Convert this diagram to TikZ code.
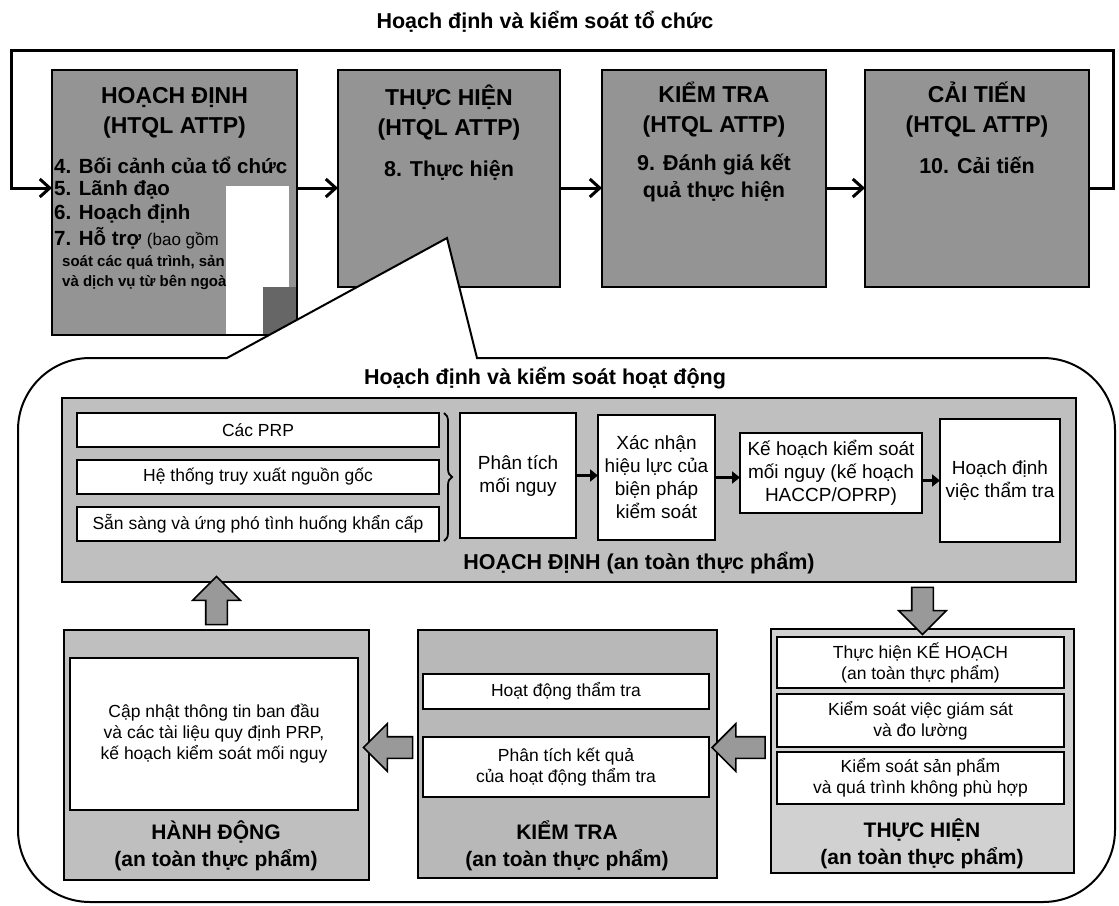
\documentclass[tikz,border=0pt]{standalone}
\usepackage{fontspec}
\setmainfont{Liberation Sans}
\usetikzlibrary{arrows.meta, calc, shapes.arrows, decorations.pathreplacing}

\newcommand{\fsz}[2]{\fontsize{#1}{#2}\selectfont}

\begin{document}
\begin{tikzpicture}[
  x=1pt, y=-1pt,
  >={Straight Barb[length=10pt, width=18pt]},
  box/.style={draw, line width=1.8pt, inner sep=0pt, outer sep=0pt},
  topbox/.style={box, fill=black!42},
  wbox/.style={box, fill=white, line width=1.6pt, align=center, font=\fsz{17.5}{21}},
  pbox/.style={wbox, font=\fsz{19}{23}},
  hd/.style={font=\bfseries\fsz{23}{30}, align=center},
  item/.style={font=\bfseries\fsz{20.5}{24}, anchor=west, inner sep=0pt},
  small item/.style={font=\bfseries\fsz{15}{18}, anchor=west, inner sep=0pt},
  ttl/.style={font=\bfseries\fsz{21.5}{24}},
  lbl/.style={font=\bfseries\fsz{21}{27}, align=center},
  flow/.style={line width=3pt, ->},
  plink/.style={line width=3.5pt, -{Triangle[length=8pt, width=12pt]}},
  fat arrow/.style={single arrow, draw, line width=1.6pt, fill=black!40,
    inner sep=10pt, outer sep=0pt, single arrow head extend=13pt},
  ]
  \fill[white] (0,0) rectangle (1119,905);
  \useasboundingbox (0,0) rectangle (1119,905);

  % organisation level
  \node[ttl] (orgtitle) at (545,22) {Hoạch định và kiểm soát tổ chức};

  \node[topbox, minimum width=245, minimum height=265] (b1) at (174.5,202.5) {};
  \node[topbox, minimum width=222, minimum height=217] (b2) at (449,178.5) {};
  \node[topbox, minimum width=224, minimum height=217] (b3) at (714,178.5) {};
  \node[topbox, minimum width=224, minimum height=217] (b4) at (977,178.5) {};

  \node[hd] (b1h) at (174.5,113) {HOẠCH ĐỊNH\\(HTQL ATTP)};
  \node[item] (i4) at (54,165) {4. Bối cảnh của tổ chức};
  \node[item] (i5) at (54,190) {5. Lãnh đạo};
  \node[item] (i6) at (54,214) {6. Hoạch định};
  \node[item] (i7) at (54,238) {7. Hỗ trợ {\mdseries\fsz{17}{18}(bao gồm}};
  \node[small item] (i7b) at (62,262) {soát các quá trình, sản};
  \node[small item] (i7c) at (62,282) {và dịch vụ từ bên ngoài};
  % blank patch of the scan
  \fill[white] (226,186) rectangle (289,334);
  \fill[black!60] (263,287) rectangle (296,334);
  \draw[line width=1.8pt] (b1.north west) rectangle (b1.south east);

  \node[hd] (b2h) at (449,113) {THỰC HIỆN\\(HTQL ATTP)};
  \node[hd, font=\bfseries\fsz{21.5}{27}] (b2t) at (449,170) {8. Thực hiện};
  \node[hd] (b3h) at (714,110) {KIỂM TRA\\(HTQL ATTP)};
  \node[hd, font=\bfseries\fsz{21.5}{27}] (b3t) at (714,178) {9. Đánh giá kết\\quả thực hiện};
  \node[hd] (b4h) at (977,110) {CẢI TIẾN\\(HTQL ATTP)};
  \node[hd, font=\bfseries\fsz{21.5}{27}] (b4t) at (977,165) {10. Cải tiến};

  % PDCA loop
  \coordinate (lvl) at (0,188);
  \coordinate (loopR) at (1113,50);
  \coordinate (loopL) at (11,50);
  \foreach \a/\b in {b1/b2, b2/b3, b3/b4}
    \draw[flow] (\a.east |- lvl) -- (\b.west |- lvl);
  \draw[flow] (b4.east |- lvl) -| (loopR) -- (loopL) |- (b1.west |- lvl);

  % operational level (callout from b2)
  \draw[line width=2pt, fill=white] (227,358) -- (447,238) -- (477,358)
    -- (1043,358) arc(-90:0:72) -- (1115,830) arc(0:90:72)
    -- (90,902) arc(90:180:72) -- (18,430) arc(180:270:72) -- cycle;
  \node[ttl] (optitle) at (545,378) {Hoạch định và kiểm soát hoạt động};

  % PLAN (an toan thuc pham)
  \node[box, fill=black!25, minimum width=1014, minimum height=184] (plan) at (569,490) {};
  \node[ttl] (planlbl) at (639,563) {HOẠCH ĐỊNH (an toàn thực phẩm)};
  \node[wbox, minimum width=362, minimum height=34] (prp) at (258,430) {Các PRP};
  \node[wbox, minimum width=362, minimum height=34] (trace) at (258,477) {Hệ thống truy xuất nguồn gốc};
  \node[wbox, minimum width=362, minimum height=34] (emerg) at (258,524) {Sẵn sàng và ứng phó tình huống khẩn cấp};
  \draw[line width=1.8pt, decorate, decoration={brace, amplitude=8pt}]
    (prp.north east) ++(5,0) coordinate (brtop) -- (emerg.south east -| brtop);
  \node[pbox, minimum width=116, minimum height=125] (ha) at (518,475.5) {Phân tích\\mối nguy};
  \node[pbox, minimum width=117, minimum height=125] (cv) at (656.5,477.5) {Xác nhận\\hiệu lực của\\biện pháp\\kiểm soát};
  \node[pbox, minimum width=182, minimum height=80] (hp) at (831,473) {Kế hoạch kiểm soát\\mối nguy (kế hoạch\\HACCP/OPRP)};
  \node[pbox, minimum width=120, minimum height=123] (vp) at (1000,480.5) {Hoạch định\\việc thẩm tra};
  \draw[plink] (ha.east) -- (ha.east -| cv.west);
  \draw[plink] (cv.east) -- (cv.east -| hp.west);
  \draw[plink] (vp.west -| hp.east) -- (vp.west);

  % ACT
  \node[box, fill=black!25, minimum width=305, minimum height=250] (act) at (216.5,755) {};
  \node[wbox, minimum width=288, minimum height=152] (actin) at (214,734)
    {Cập nhật thông tin ban đầu\\và các tài liệu quy định PRP,\\kế hoạch kiểm soát mối nguy};
  \node[lbl] (actlbl) at (216,846) {HÀNH ĐỘNG\\(an toàn thực phẩm)};

  % CHECK
  \node[box, fill=black!28, minimum width=299, minimum height=248] (chk) at (567.5,754) {};
  \node[wbox, minimum width=286, minimum height=35] (verif) at (566,691.5) {Hoạt động thẩm tra};
  \node[wbox, minimum width=286, minimum height=60] (anal) at (566,767) {Phân tích kết quả\\của hoạt động thẩm tra};
  \node[lbl] (chklbl) at (567,846) {KIỂM TRA\\(an toàn thực phẩm)};

  % DO
  \node[box, fill=black!18, minimum width=303, minimum height=244] (do) at (922.5,751) {};
  \node[wbox, minimum width=287, minimum height=51] (exe) at (920.5,662.5) {Thực hiện KẾ HOẠCH\\(an toàn thực phẩm)};
  \node[wbox, minimum width=287, minimum height=53] (mon) at (920.5,720.5) {Kiểm soát việc giám sát\\và đo lường};
  \node[wbox, minimum width=287, minimum height=52] (nonc) at (920.5,778) {Kiểm soát sản phẩm\\và quá trình không phù hợp};
  \node[lbl] (dolbl) at (922,844) {THỰC HIỆN\\(an toàn thực phẩm)};

  % cycle arrows
  \node[fat arrow, shape border rotate=90, minimum height=48] (a1)
    at ($(plan.south -| act.north)!.5!(act.north)$) {};
  \node[fat arrow, shape border rotate=270, minimum height=47] (a2)
    at ($(plan.south -| do.north)!.5!(do.north)$) {};
  \node[fat arrow, shape border rotate=180, minimum height=53] (a3)
    at ($(chk.east)!.5!(do.west)+(0,-5)$) {};
  \node[fat arrow, shape border rotate=180, minimum height=49] (a4)
    at ($(act.east)!.5!(chk.west)+(0,-7)$) {};
\end{tikzpicture}
\end{document}
